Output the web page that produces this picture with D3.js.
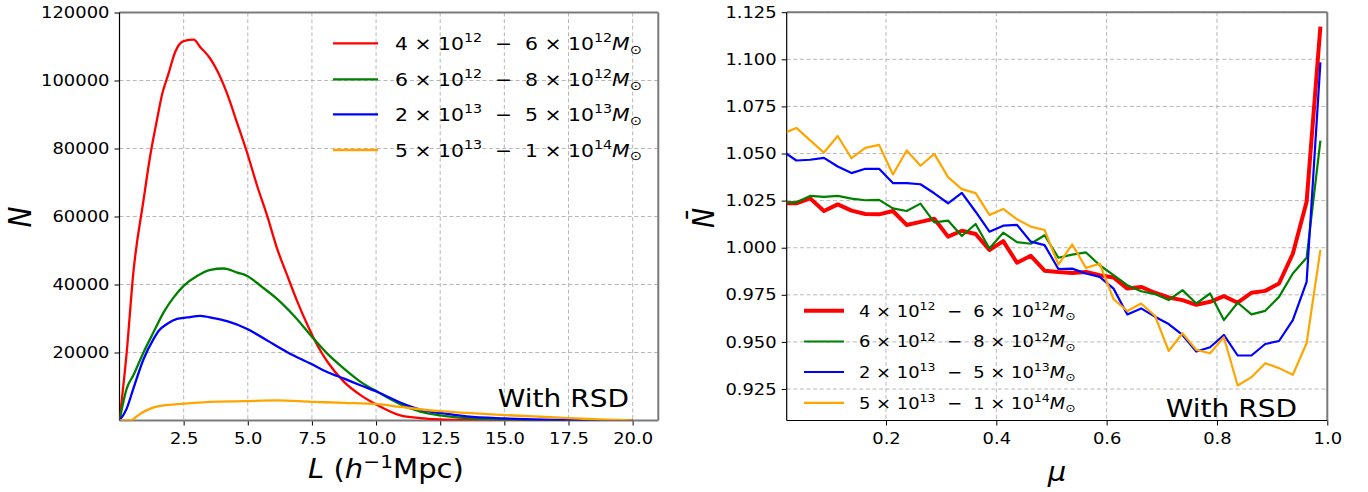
<!DOCTYPE html>
<html>
<head>
<meta charset="utf-8">
<script src="https://cdn.jsdelivr.net/npm/d3@7"></script>
<style>
  body { margin: 0; background: #fff; }
  svg { font-family: "DejaVu Sans", sans-serif; }
  text { white-space: pre; }
</style>
</head>
<body>
<div id="chart"></div>
<script>
// ---- data: left panel, N(L) per mass bin ----
var lRed = [0, 0.28, 0.54, 0.94, 1.2, 1.45, 1.65, 1.91, 2.17, 2.5, 2.89, 3.15, 3.54, 3.8, 4.19, 4.59, 4.98, 5.37, 5.76, 6.15, 6.54, 6.94, 7.33, 7.72, 8.11, 8.76, 9.41, 10.06, 10.94, 11.72, 12.5, 13.54, 15, 20];
var nRed = [0, 20000, 43500, 65000, 78000, 88000, 95600, 102000, 108400, 111600, 112000, 109800, 106400, 103000, 96200, 87400, 78600, 68900, 60100, 50400, 42600, 34800, 28000, 22000, 17200, 11300, 7400, 4500, 1500, 700, 300, 100, 0, 0];

var lGreen = [0, 0.28, 0.54, 0.94, 1.33, 1.72, 2.11, 2.5, 3.02, 3.54, 4.06, 4.59, 4.98, 5.5, 6.15, 6.8, 7.46, 8.11, 8.76, 9.41, 10.06, 10.94, 11.72, 12.5, 13.54, 15, 16.14, 17.5, 20];
var nGreen = [0, 9400, 13300, 20100, 26000, 31800, 36200, 39600, 42500, 44300, 44700, 43500, 42500, 39600, 35700, 30800, 25000, 19600, 15200, 11300, 8400, 4800, 2630, 1520, 700, 300, 100, 0, 0];

var lBlue = [0, 0.28, 0.54, 0.94, 1.33, 1.53, 1.85, 2.24, 2.63, 3.15, 3.67, 4.19, 4.98, 5.76, 6.54, 7.46, 8.11, 8.76, 9.41, 10.06, 10.94, 11.72, 12.5, 13.54, 15, 16.14, 17.5, 20];
var nBlue = [0, 3500, 9400, 18100, 24000, 26400, 28400, 29900, 30300, 30800, 30100, 29200, 26900, 23500, 20100, 16700, 14200, 12300, 10300, 8400, 5300, 3230, 2220, 1210, 600, 300, 100, 0];

var lOrange = [0, 0.41, 0.81, 1.2, 1.59, 2.24, 2.89, 3.54, 4.85, 6.15, 7.46, 8.76, 10.06, 10.94, 12.5, 13.54, 15, 16.14, 17.5, 18.74, 20];
var nOrange = [0, 0, 2000, 3500, 4300, 4800, 5200, 5500, 5700, 5900, 5500, 5200, 4800, 4000, 2730, 2220, 1600, 1200, 700, 300, 0];

// ---- data: right panel, normalised N vs mu ----
var mu = [0.0125, 0.0375, 0.0625, 0.0875, 0.1125, 0.1375, 0.1625, 0.1875, 0.2125, 0.2375,
          0.2625, 0.2875, 0.3125, 0.3375, 0.3625, 0.3875, 0.4125, 0.4375, 0.4625, 0.4875,
          0.5125, 0.5375, 0.5625, 0.5875, 0.6125, 0.6375, 0.6625, 0.6875, 0.7125, 0.7375,
          0.7625, 0.7875, 0.8125, 0.8375, 0.8625, 0.8875, 0.9125, 0.9375, 0.9625, 0.9875];
var nbRed = [1.0236, 1.0236, 1.0262, 1.0195, 1.0230, 1.0197, 1.0179, 1.0177, 1.0195, 1.0121,
             1.0137, 1.0154, 1.0059, 1.0090, 1.0073, 0.9988, 1.0035, 0.9920, 0.9957, 0.9878,
             0.9871, 0.9866, 0.9871, 0.9854, 0.9842, 0.9783, 0.9792, 0.9761, 0.9736, 0.9722,
             0.9697, 0.9713, 0.9743, 0.9708, 0.9761, 0.9771, 0.9810, 0.9968, 1.0244, 1.1173];
var nbGreen = [1.0241, 1.0241, 1.0275, 1.0270, 1.0275, 1.0261, 1.0252, 1.0254, 1.0209, 1.0195,
               1.0234, 1.0135, 1.0144, 1.0062, 1.0126, 0.9996, 1.0080, 1.0030, 1.0021, 1.0066,
               0.9947, 0.9963, 0.9975, 0.9907, 0.9854, 0.9801, 0.9769, 0.9754, 0.9722, 0.9775,
               0.9704, 0.9757, 0.9616, 0.9708, 0.9646, 0.9665, 0.9739, 0.9863, 0.9947, 1.0568];
var nbBlue = [1.0513, 1.0463, 1.0467, 1.0477, 1.0431, 1.0396, 1.0419, 1.0419, 1.0343, 1.0343,
              1.0337, 1.0289, 1.0236, 1.0291, 1.0191, 1.0085, 1.0117, 1.0121, 1.0032, 1.0014,
              0.9887, 0.9889, 0.9863, 0.9845, 0.9783, 0.9646, 0.9678, 0.9634, 0.9595, 0.9537,
              0.9449, 0.9472, 0.9537, 0.9428, 0.9428, 0.9489, 0.9505, 0.9616, 0.9819, 1.0984];
var nbOrange = [1.0605, 1.0636, 1.0570, 1.0505, 1.0593, 1.0475, 1.0530, 1.0546, 1.0389, 1.0516,
                1.0435, 1.0498, 1.0375, 1.0311, 1.0290, 1.0174, 1.0206, 1.0151, 1.0112, 1.0094,
                0.9910, 1.0018, 0.9893, 0.9915, 0.9727, 0.9664, 0.9704, 0.9639, 0.9452, 0.9546,
                0.9458, 0.9440, 0.9525, 0.9269, 0.9313, 0.9387, 0.9361, 0.9326, 0.9493, 0.9989];

// ---- labels / ticks ----
var binLow  = [["4", "12"], ["6", "12"], ["2", "13"], ["5", "13"]];
var binHigh = [["6", "12"], ["8", "12"], ["5", "13"], ["1", "14"]];
var colors = ["red", "green", "blue", "orange"];
var xTicksL = [2.5, 5.0, 7.5, 10.0, 12.5, 15.0, 17.5, 20.0];
var yTicksL = [20000, 40000, 60000, 80000, 100000, 120000];
var xTicksR = [0.2, 0.4, 0.6, 0.8, 1.0];
var yTicksR = [0.925, 0.950, 0.975, 1.000, 1.025, 1.050, 1.075, 1.100, 1.125];

var sx = 1.12; // the reference text is a little wide

var svg = d3.select("#chart").append("svg")
    .attr("width", 1368)
    .attr("height", 492);

function drawPanel(id, x, y, xt, yt, xfmt, yfmt, bottomColor) {
    var x0 = x.range()[0], x1 = x.range()[1], yb = y.range()[0], ytop = y.range()[1];
    var g = svg.append("g");

    svg.append("clipPath").attr("id", id)
        .append("rect").attr("x", x0).attr("y", ytop).attr("width", x1 - x0).attr("height", yb - ytop);

    g.selectAll(".vg").data(xt).enter().append("line")
        .attr("x1", d => x(d)).attr("x2", d => x(d)).attr("y1", ytop).attr("y2", yb)
        .attr("stroke", "#b0b0b0").attr("stroke-width", 0.9).attr("stroke-dasharray", "4,2.6");
    g.selectAll(".hg").data(yt).enter().append("line")
        .attr("y1", d => y(d)).attr("y2", d => y(d)).attr("x1", x0).attr("x2", x1)
        .attr("stroke", "#b0b0b0").attr("stroke-width", 0.9).attr("stroke-dasharray", "4,2.6");

    var ax = g.append("g").attr("transform", "translate(0," + yb + ")")
        .call(d3.axisBottom(x).tickValues(xt).tickFormat(xfmt).tickSize(5).tickPadding(7));
    var ay = g.append("g").attr("transform", "translate(" + x0 + ",0)")
        .call(d3.axisLeft(y).tickValues(yt).tickFormat(yfmt).tickSize(5).tickPadding(4));
    [ax, ay].forEach(function(a) {
        a.select(".domain").remove();
        a.selectAll("text").attr("font-size", 16).attr("fill", "#000")
            .attr("font-family", "DejaVu Sans").attr("transform", "scale(" + sx + ",1)");
        a.selectAll("line").attr("stroke", "#000");
    });

    var frame = svg.append("g").attr("class", "frame-" + id);
    frame.append("line").attr("x1", x0).attr("x2", x1).attr("y1", ytop).attr("y2", ytop)
        .attr("stroke", "#7a7a7a").attr("stroke-width", 2);
    frame.append("line").attr("x1", x1).attr("x2", x1).attr("y1", ytop).attr("y2", yb)
        .attr("stroke", "#7a7a7a").attr("stroke-width", 2);
    frame.append("line").attr("x1", x0).attr("x2", x1).attr("y1", yb).attr("y2", yb)
        .attr("stroke", bottomColor).attr("stroke-width", bottomColor == "#000" ? 1.2 : 2);
    frame.append("line").attr("x1", x0).attr("x2", x0).attr("y1", ytop).attr("y2", yb)
        .attr("stroke", "#000").attr("stroke-width", 1.2);
    return g;
}

function massLabel(g, x, y, fs, low, high) {
    var t = g.append("text")
        .attr("transform", "translate(" + x + "," + y + ") scale(" + sx + ",1)")
        .attr("font-size", fs).attr("fill", "#000");
    t.append("tspan").text(low[0] + " × 10");
    t.append("tspan").attr("font-size", 0.7 * fs).attr("dy", -0.42 * fs).text(low[1]);
    t.append("tspan").attr("dy", 0.42 * fs).text("  −  " + high[0] + " × 10");
    t.append("tspan").attr("font-size", 0.7 * fs).attr("dy", -0.42 * fs).text(high[1]);
    t.append("tspan").attr("dy", 0.42 * fs).attr("font-style", "italic").text("M");
    t.append("tspan").attr("font-size", 0.7 * fs).attr("dy", 0.2 * fs).text("⊙");
}

function legend(lx0, lx1, tx, rows, fs, widths) {
    var g = svg.append("g");
    rows.forEach(function(ry, i) {
        g.append("line").attr("x1", lx0).attr("x2", lx1).attr("y1", ry).attr("y2", ry)
            .attr("stroke", colors[i]).attr("stroke-width", widths[i]);
        massLabel(g, tx, ry + 0.37 * fs, fs, binLow[i], binHigh[i]);
    });
}

function plainText(x, y, fs, str, anchor) {
    return svg.append("text")
        .attr("transform", "translate(" + x + "," + y + ") scale(" + sx + ",1)")
        .attr("font-size", fs).attr("text-anchor", anchor).attr("fill", "#000").text(str);
}

// ---------------- left panel ----------------
var xL = d3.scaleLinear().domain([0, 21.0]).range([119.5, 658.3]);
var yL = d3.scaleLinear().domain([0, 120000]).range([420.5, 12.5]);
drawPanel("clipL", xL, yL, xTicksL, yTicksL, d3.format(".1f"), d3.format("d"), "#7a7a7a");

var lineL = d3.line().curve(d3.curveMonotoneX).x(d => xL(d[0])).y(d => yL(d[1]));
var leftSeries = [d3.zip(lRed, nRed), d3.zip(lGreen, nGreen), d3.zip(lBlue, nBlue), d3.zip(lOrange, nOrange)];
svg.append("g").attr("clip-path", "url(#clipL)")
    .selectAll("path").data(leftSeries).enter().append("path")
    .attr("d", lineL).attr("fill", "none")
    .attr("stroke", (d, i) => colors[i]).attr("stroke-width", 2.3).attr("stroke-linejoin", "round");

legend(333, 378, 395, [43.3, 79.3, 114.3, 150], 18.2, [2.3, 2.3, 2.3, 2.3]);
plainText(629, 406.5, 25, "With RSD", "end");

// x label L (h^-1 Mpc)
var xlab = svg.append("text")
    .attr("transform", "translate(386,478) scale(" + sx + ",1)")
    .attr("font-size", 26).attr("text-anchor", "middle").attr("fill", "#000");
xlab.append("tspan").attr("font-style", "italic").text("L");
xlab.append("tspan").text(" (");
xlab.append("tspan").attr("font-style", "italic").text("h");
xlab.append("tspan").attr("font-size", 18).attr("dy", -10).text("−1");
xlab.append("tspan").attr("dy", 10).text("Mpc)");

svg.append("text")
    .attr("transform", "translate(31,217) scale(" + sx + ",1) rotate(-90)")
    .attr("font-size", 28).attr("font-style", "italic").attr("text-anchor", "middle").text("N");

// ---------------- right panel ----------------
var xR = d3.scaleLinear().domain([0.02, 1.0]).range([786.7, 1327.3]);
var yR = d3.scaleLinear().domain([0.9083, 1.125]).range([420.5, 12.2]);
drawPanel("clipR", xR, yR, xTicksR, yTicksR, d3.format(".1f"), d3.format(".3f"), "#000");

var lineR = d3.line().x(d => xR(d[0])).y(d => yR(d[1]));
var rightSeries = [d3.zip(mu, nbRed), d3.zip(mu, nbGreen), d3.zip(mu, nbBlue), d3.zip(mu, nbOrange)];
svg.append("g").attr("clip-path", "url(#clipR)")
    .selectAll("path").data(rightSeries).enter().append("path")
    .attr("d", lineR).attr("fill", "none")
    .attr("stroke", (d, i) => colors[i]).attr("stroke-width", (d, i) => i == 0 ? 4 : 2.2)
    .attr("stroke-linejoin", "round");

legend(804, 844, 859, [310.7, 341.5, 372, 402.8], 16, [4, 2.2, 2.2, 2.2]);
plainText(1297, 417, 25, "With RSD", "end");

svg.append("text")
    .attr("transform", "translate(1057,481) scale(" + sx + ",1)")
    .attr("font-size", 26).attr("font-style", "italic").attr("text-anchor", "middle").text("μ");

svg.append("text")
    .attr("transform", "translate(714,218) scale(" + sx + ",1) rotate(-90)")
    .attr("font-size", 27).attr("font-style", "italic").attr("text-anchor", "middle").text("N\u0304");
</script>
</body>
</html>
